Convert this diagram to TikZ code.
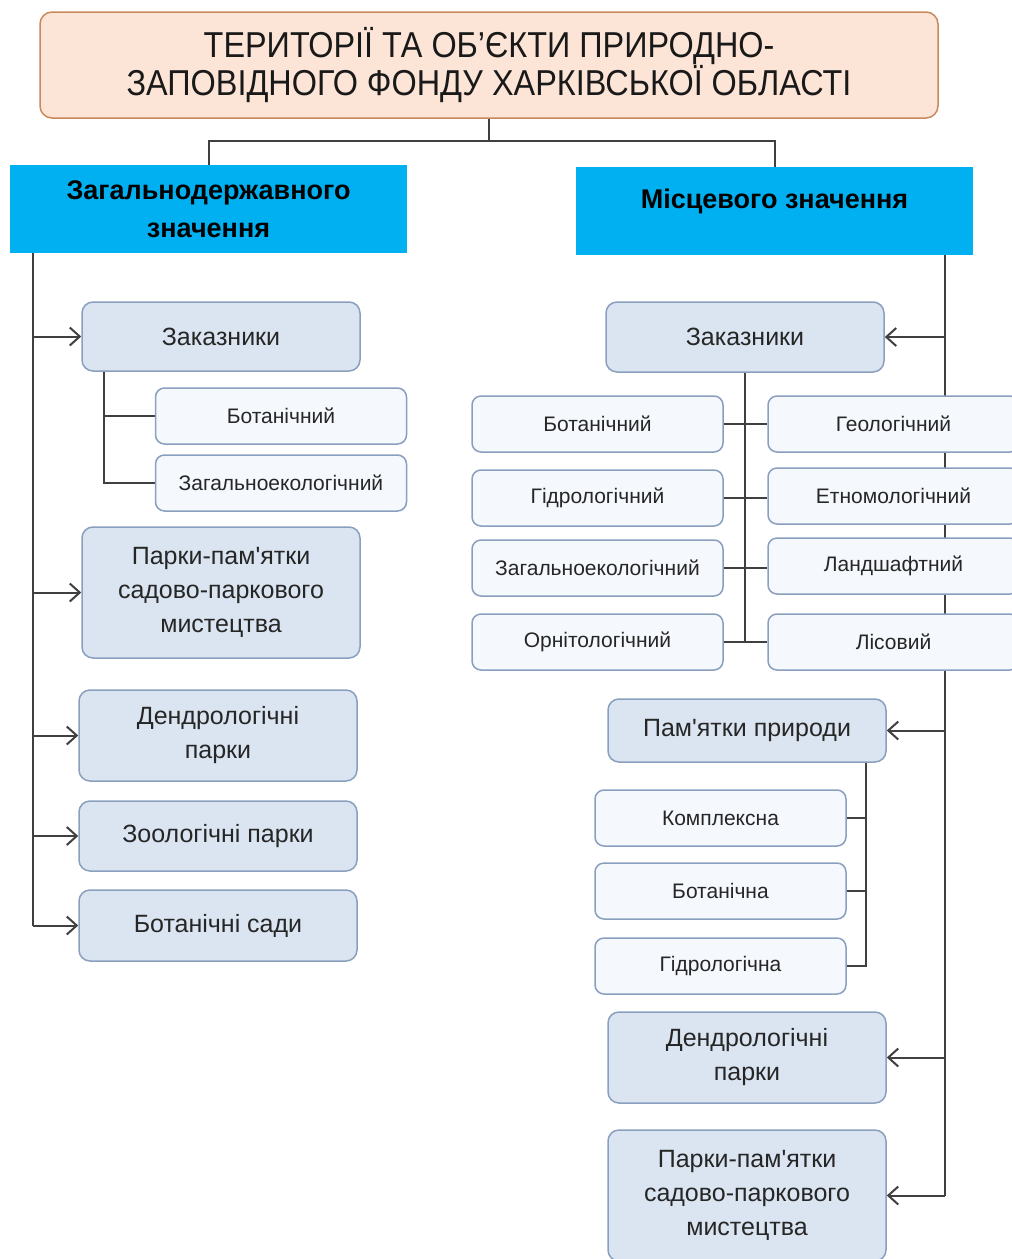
\documentclass[tikz,border=0pt]{standalone}
\usepackage{fontspec}
\setmainfont{Liberation Sans}
\newfontfamily\narrowfont[FakeStretch=0.9]{Liberation Sans}
\usetikzlibrary{arrows.meta,backgrounds}

\definecolor{titlefill}{HTML}{FCE4D6}
\definecolor{titledraw}{HTML}{C8895C}
\definecolor{headfill}{HTML}{00B0F0}
\definecolor{boxfill}{HTML}{DBE5F1}
\definecolor{boxdraw}{HTML}{8A9FBE}
\definecolor{subfill}{HTML}{F5F8FC}
\definecolor{linegray}{HTML}{404040}
\definecolor{textgray}{HTML}{262626}

\begin{document}
\begin{tikzpicture}[x=1pt, y=-1pt,
	every node/.style = {shape=rectangle, draw, align=center,
			inner sep=0pt, text=textgray},
	top/.style = {fill=titlefill, draw=titledraw, line width=1.5pt,
			rounded corners=12pt, minimum width=898, minimum height=106,
			text=black!90, font=\narrowfont\fontsize{36}{33}\selectfont},
	head/.style = {fill=headfill, draw=none, minimum width=397,
			minimum height=88, text=black,
			font=\bfseries\fontsize{27}{38}\selectfont},
	item/.style = {fill=boxfill, draw=boxdraw, line width=1.5pt,
			rounded corners=11pt, minimum width=278,
			font=\fontsize{25}{34}\selectfont},
	subitem/.style = {fill=subfill, draw=boxdraw, line width=1.5pt,
			rounded corners=9pt, minimum width=251, minimum height=56,
			font=\fontsize{21}{23}\selectfont},
	link/.style = {draw=linegray, line width=2pt},
	feed/.style = {link, -{Straight Barb[length=10pt,width=18pt]}}]

	\useasboundingbox (0,0) rectangle (1012,1259);

	% top and the two groups
	\node[top] (top) at (489,65) {ТЕРИТОРІЇ ТА ОБ’ЄКТИ ПРИРОДНО-\\ЗАПОВІДНОГО ФОНДУ ХАРКІВСЬКОЇ ОБЛАСТІ};
	\node[head] (headL) at (208.5,209) {Загальнодержавного\\значення};
	\node[head, text depth=24pt] (headR) at (774.5,211) {Місцевого значення};

	% left side
	\node[item, minimum height=69] (zakL) at (221,336.5) {Заказники};
	\node[subitem] (botL) at (281,416) {Ботанічний};
	\node[subitem] (zagL) at (281,483) {Загальноекологічний};
	\node[item, minimum height=131] (parkL) at (221,592.5) {Парки-пам\textquotesingle ятки\\садово-паркового\\мистецтва};
	\node[item, minimum height=91] (dendL) at (218,735.5) {Дендрологічні\\парки};
	\node[item, minimum height=70] (zooL) at (218,836) {Зоологічні парки};
	\node[item, minimum height=71] (botsL) at (218,925.5) {Ботанічні сади};

	% right side
	\node[item, minimum height=70] (zakR) at (745,337) {Заказники};
	\node[subitem] (botR) at (597.5,424) {Ботанічний};
	\node[subitem] (hydR) at (597.5,498) {Гідрологічний};
	\node[subitem] (zagR) at (597.5,568) {Загальноекологічний};
	\node[subitem] (ornR) at (597.5,642) {Орнітологічний};
	\node[subitem] (geoR) at (893.5,424) {Геологічний};
	\node[subitem] (ethR) at (893.5,496) {Етномологічний};
	\node[subitem] (landR) at (893.5,566) {Ландшафтний};
	\node[subitem] (forR) at (893.5,642) {Лісовий};
	\node[item, minimum height=63] (pamR) at (747,730.5) {Пам\textquotesingle ятки природи};
	\node[subitem] (kompP) at (720.5,818) {Комплексна};
	\node[subitem] (botP) at (720.5,891) {Ботанічна};
	\node[subitem] (hydP) at (720.5,966) {Гідрологічна};
	\node[item, minimum height=91] (dendR) at (747,1057.5) {Дендрологічні\\парки};
	\node[item, minimum height=131] (parkR) at (747,1195.5) {Парки-пам\textquotesingle ятки\\садово-паркового\\мистецтва};

	\begin{scope}[on background layer]
		\coordinate (fork) at (489,141);
		\coordinate (trunkL) at (33,0);
		\coordinate (trunkR) at (945,0);
		\coordinate (subL) at (104,0);
		\coordinate (subP) at (866,0);

		\draw[link] (top.south) -- (fork);
		\draw[link] (headL.north) |- (fork) -| (headR.north);

		% left trunk
		\draw[link] (trunkL |- headL.south) -- (trunkL |- botsL.west);
		\foreach \n in {zakL,parkL,dendL,zooL,botsL}
			\draw[feed] (trunkL |- \n.west) -- (\n.west);
		\draw[link] (subL |- zakL.south) |- (zagL.west);
		\draw[link] (subL |- botL.west) -- (botL.west);

		% right trunk
		\draw[link] (trunkR |- headR.south) -- (trunkR |- parkR.east);
		\foreach \n in {zakR,pamR,dendR,parkR}
			\draw[feed] (trunkR |- \n.east) -- (\n.east);
		\draw[link] (zakR.south) -- (zakR.south |- ornR.east);
		\draw[link] (botR.east) -- (botR.east -| geoR.west);
		\draw[link] (hydR.east) -- (hydR.east -| ethR.west);
		\draw[link] (zagR.east) -- (zagR.east -| landR.west);
		\draw[link] (ornR.east) -- (ornR.east -| forR.west);
		\draw[link] (subP |- pamR.south) |- (hydP.east);
		\draw[link] (subP |- kompP.east) -- (kompP.east);
		\draw[link] (subP |- botP.east) -- (botP.east);
	\end{scope}
\end{tikzpicture}
\end{document}
